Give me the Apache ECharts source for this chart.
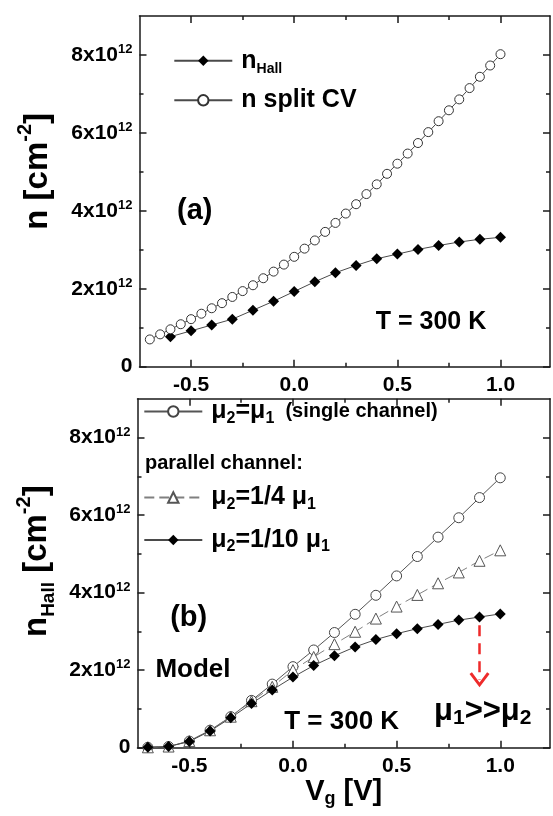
<!DOCTYPE html>
<html>
<head>
<meta charset="utf-8">
<script src="https://cdn.jsdelivr.net/npm/echarts@6/dist/echarts.min.js"></script>
<style>
  html, body { margin: 0; padding: 0; background: #fff; }
  #chart { width: 553px; height: 816px; }
</style>
</head>
<body>
<div id="chart"></div>
<script>
// densities in units of 1e12 cm^-2, gate voltage in V
var vgCV = [-0.70, -0.65, -0.60, -0.55, -0.50, -0.45, -0.40, -0.35, -0.30, -0.25, -0.20, -0.15,
            -0.10, -0.05, 0.00, 0.05, 0.10, 0.15, 0.20, 0.25, 0.30, 0.35, 0.40, 0.45, 0.50,
            0.55, 0.60, 0.65, 0.70, 0.75, 0.80, 0.85, 0.90, 0.95, 1.00];
var nCV = [0.70, 0.83, 0.96, 1.09, 1.22, 1.36, 1.50, 1.63, 1.79, 1.94, 2.09, 2.27,
           2.44, 2.62, 2.82, 3.03, 3.24, 3.46, 3.69, 3.93, 4.17, 4.43, 4.68, 4.95, 5.21,
           5.47, 5.74, 6.02, 6.30, 6.58, 6.86, 7.15, 7.44, 7.73, 8.02];
var vgHall = [-0.6, -0.5, -0.4, -0.3, -0.2, -0.1, 0.0, 0.1, 0.2, 0.3, 0.4, 0.5, 0.6, 0.7, 0.8, 0.9, 1.0];
var nHall = [0.77, 0.92, 1.07, 1.22, 1.45, 1.68, 1.93, 2.18, 2.41, 2.60, 2.77, 2.89, 3.01, 3.11, 3.20, 3.27, 3.32];

var vgModel = [-0.7, -0.6, -0.5, -0.4, -0.3, -0.2, -0.1, 0.0, 0.1, 0.2, 0.3, 0.4, 0.5, 0.6, 0.7, 0.8, 0.9, 1.0];
var nSingle = [0.01, 0.03, 0.17, 0.45, 0.80, 1.22, 1.64, 2.09, 2.52, 2.97, 3.44, 3.93, 4.43, 4.93, 5.43, 5.93, 6.45, 6.96];
var nQuarter = [0.01, 0.03, 0.17, 0.45, 0.80, 1.20, 1.57, 2.00, 2.34, 2.67, 2.99, 3.33, 3.64, 3.94, 4.24, 4.52, 4.82, 5.09];
var nTenth = [0.01, 0.03, 0.16, 0.43, 0.77, 1.14, 1.49, 1.82, 2.12, 2.37, 2.60, 2.79, 2.94, 3.07, 3.18, 3.29, 3.37, 3.45];

var arrowFrom = [0.9, 3.16];
var arrowTo = [0.9, 1.75];

var xLabelValues = [-0.5, 0.0, 0.5, 1.0];
var xMinorValues = [-0.25, 0.25, 0.75];
var yLabelValues = [0, 2, 4, 6, 8];
var yMinorValues = [1, 3, 5, 7];

var FONT = '"Liberation Sans", Arial, sans-serif';
var AXIS_COLOR = '#1a1a1a';

function pairs(xs, ys) {
    return xs.map(function (x, i) { return [x, ys[i]]; });
}

function xAxesFor(g, name) {
    function one(pos, major) {
        return {
            type: 'value', gridIndex: g, position: pos, min: -0.75, max: 1.24,
            splitLine: {show: false},
            axisLine: {show: major, onZero: false, lineStyle: {color: AXIS_COLOR, width: 1.5}},
            axisTick: {inside: true, length: major ? 7 : 4, customValues: major ? xLabelValues : xMinorValues,
                       lineStyle: {color: AXIS_COLOR, width: 1.5}},
            axisLabel: {show: major && pos === 'bottom', customValues: xLabelValues,
                        formatter: function (v) { return v.toFixed(1); },
                        fontSize: 21, fontWeight: 'bold', color: '#000', fontFamily: FONT, margin: 8},
            name: (major && pos === 'bottom') ? name : '',
            nameLocation: 'middle', nameGap: 27,
            nameTextStyle: {
                color: '#000', fontFamily: FONT,
                rich: {
                    a: {fontSize: 29, fontWeight: 'bold', lineHeight: 32, fontFamily: FONT, color: '#000'},
                    sub: {fontSize: 18, fontWeight: 'bold', verticalAlign: 'bottom', lineHeight: 6, fontFamily: FONT, color: '#000'}
                }
            }
        };
    }
    return [one('bottom', true), one('bottom', false), one('top', true), one('top', false)];
}

function yAxesFor(g, name, gap, shift) {
    function one(pos, major) {
        return {
            type: 'value', gridIndex: g, position: pos, min: 0, max: 9,
            splitLine: {show: false},
            axisLine: {show: major, onZero: false, lineStyle: {color: AXIS_COLOR, width: 1.5}},
            axisTick: {inside: true, length: major ? 7 : 4, customValues: major ? yLabelValues : yMinorValues,
                       lineStyle: {color: AXIS_COLOR, width: 1.5}},
            axisLabel: {
                show: major && pos === 'left', customValues: yLabelValues, margin: 7,
                formatter: function (v) { return v === 0 ? '{m|0}' : '{m|' + v + 'x10}{s|12}'; },
                rich: {
                    m: {fontSize: 21, fontWeight: 'bold', lineHeight: 24, color: '#000', fontFamily: FONT},
                    s: {fontSize: 13, fontWeight: 'bold', verticalAlign: 'top', lineHeight: 5, color: '#000', fontFamily: FONT}
                }
            },
            name: (major && pos === 'left') ? name : '',
            nameLocation: 'middle', nameGap: gap,
            nameTextStyle: {
                color: '#000', fontFamily: FONT, padding: [0, 0, 0, shift],
                rich: {
                    a: {fontSize: 33, fontWeight: 'bold', lineHeight: 44, fontFamily: FONT, color: '#000'},
                    sup: {fontSize: 20, fontWeight: 'bold', verticalAlign: 'top', lineHeight: 6, fontFamily: FONT, color: '#000'},
                    sub: {fontSize: 19, fontWeight: 'bold', verticalAlign: 'bottom', lineHeight: 18, fontFamily: FONT, color: '#000'}
                }
            }
        };
    }
    return [one('left', true), one('left', false), one('right', true), one('right', false)];
}

var legendText = {
    'n Hall': '{m0|n}{sub|Hall}',
    'n split CV': '{m0|n split CV}',
    'single': '{u0|μ}{sub2|2}{u|=μ}{sub2|1}{s|  (single channel)}',
    'quarter': '{u0|μ}{sub2|2}{u|=1/4 μ}{sub2|1}',
    'tenth': '{u0|μ}{sub2|2}{u|=1/10 μ}{sub2|1}'
};
var legendRich = {
    m0: {fontSize: 25, fontWeight: 'bold', lineHeight: 30, padding: [0, 0, 0, 4], fontFamily: FONT, color: '#000'},
    sub: {fontSize: 14, fontWeight: 'bold', verticalAlign: 'bottom', lineHeight: 6, fontFamily: FONT, color: '#000'},
    u0: {fontSize: 25, fontWeight: 'bold', lineHeight: 30, padding: [0, 0, 0, 4], fontFamily: FONT, color: '#000'},
    u: {fontSize: 25, fontWeight: 'bold', lineHeight: 30, fontFamily: FONT, color: '#000'},
    sub2: {fontSize: 16, fontWeight: 'bold', verticalAlign: 'bottom', lineHeight: 6, fontFamily: FONT, color: '#000'},
    s: {fontSize: 20, fontWeight: 'bold', lineHeight: 30, fontFamily: FONT, color: '#000'}
};
function legendFor(names, left, top, gap) {
    return {
        data: names, orient: 'vertical', left: left, top: top, itemGap: gap,
        itemWidth: 58, itemHeight: 13, selectedMode: false, padding: 0,
        formatter: function (n) { return legendText[n]; },
        textStyle: {rich: legendRich}
    };
}

var lineGray = '#4a4a4a';
var chevron = 'path://M10,0 L20,14 L17.6,15.6 L10,5 L2.4,15.6 L0,14 Z';

var myChart = echarts.init(document.getElementById('chart'));
var option = {
    animation: false,
    textStyle: {fontFamily: FONT},
    grid: [
        {left: 139.5, right: 3, top: 16, bottom: 449.3},
        {left: 137.5, right: 3, top: 398.7, bottom: 68.3}
    ],
    xAxis: xAxesFor(0, '').concat(xAxesFor(1, '{a|V}{sub|g}{a| [V]}')),
    yAxis: yAxesFor(0, '{a|n [cm}{sup|-2}{a|]}', 80, 40)
        .concat(yAxesFor(1, '{a|n}{sub|Hall}{a| [cm}{sup|-2}{a|]}', 78, 24)),
    legend: [
        legendFor(['n Hall', 'n split CV'], 173.3, 48.3, 12),
        legendFor(['single'], 143.3, 399, 10),
        legendFor(['quarter', 'tenth'], 143.3, 485, 15)
    ],
    series: [
        {
            name: 'n Hall', type: 'line', xAxisIndex: 0, yAxisIndex: 0,
            data: pairs(vgHall, nHall), symbol: 'diamond', symbolSize: 11,
            itemStyle: {color: '#000'}, lineStyle: {color: lineGray, width: 1},
            emphasis: {disabled: true}, z: 3
        },
        {
            name: 'n split CV', type: 'line', xAxisIndex: 0, yAxisIndex: 0,
            data: pairs(vgCV, nCV), symbol: 'circle', symbolSize: 9,
            itemStyle: {color: '#fff', borderColor: '#333', borderWidth: 1},
            lineStyle: {color: lineGray, width: 1}, emphasis: {disabled: true}
        },
        {
            name: 'single', type: 'line', xAxisIndex: 4, yAxisIndex: 4,
            data: pairs(vgModel, nSingle), symbol: 'circle', symbolSize: 10,
            itemStyle: {color: '#fff', borderColor: '#444', borderWidth: 1},
            lineStyle: {color: '#555', width: 1}, emphasis: {disabled: true}
        },
        {
            name: 'quarter', type: 'line', xAxisIndex: 4, yAxisIndex: 4,
            data: pairs(vgModel, nQuarter), symbol: 'triangle', symbolSize: 11,
            itemStyle: {color: '#fff', borderColor: '#555', borderWidth: 1},
            lineStyle: {color: '#808080', width: 1, type: [10, 5]}, emphasis: {disabled: true}
        },
        {
            name: 'tenth', type: 'line', xAxisIndex: 4, yAxisIndex: 4,
            data: pairs(vgModel, nTenth), symbol: 'diamond', symbolSize: 11,
            itemStyle: {color: '#000'}, lineStyle: {color: lineGray, width: 1},
            emphasis: {disabled: true}, z: 3,
            markLine: {
                silent: true, animation: false,
                symbol: ['none', chevron], symbolSize: [20, 15],
                lineStyle: {color: '#ee2a2a', width: 2.5, type: [11, 7]},
                label: {show: false},
                data: [[{coord: arrowFrom}, {coord: arrowTo}]]
            }
        }
    ],
    graphic: [
        {type: 'text', x: 194.7, y: 211, style: {text: '(a)', fontSize: 29, fontWeight: 'bold', fontFamily: FONT, fill: '#000', align: 'center', verticalAlign: 'middle'}},
        {type: 'text', x: 431, y: 322, style: {text: 'T = 300 K', fontSize: 25, fontWeight: 'bold', fontFamily: FONT, fill: '#000', align: 'center', verticalAlign: 'middle'}},
        {type: 'text', x: 145, y: 463.3, style: {text: 'parallel channel:', fontSize: 20, fontWeight: 'bold', fontFamily: FONT, fill: '#000', align: 'left', verticalAlign: 'middle'}},
        {type: 'text', x: 188.7, y: 618.3, style: {text: '(b)', fontSize: 29, fontWeight: 'bold', fontFamily: FONT, fill: '#000', align: 'center', verticalAlign: 'middle'}},
        {type: 'text', x: 193, y: 670, style: {text: 'Model', fontSize: 26, fontWeight: 'bold', fontFamily: FONT, fill: '#000', align: 'center', verticalAlign: 'middle'}},
        {type: 'text', x: 341.7, y: 722, style: {text: 'T = 300 K', fontSize: 26, fontWeight: 'bold', fontFamily: FONT, fill: '#000', align: 'center', verticalAlign: 'middle'}},
        {type: 'text', x: 434, y: 711, style: {
            text: '{m|μ}{s|1}{m|>>μ}{s|2}', align: 'left', verticalAlign: 'middle',
            rich: {
                m: {fontSize: 31, fontWeight: 'bold', lineHeight: 36, fontFamily: FONT, fill: '#000'},
                s: {fontSize: 21, fontWeight: 'bold', verticalAlign: 'bottom', lineHeight: 8, fontFamily: FONT, fill: '#000'}
            }
        }}
    ]
};
myChart.setOption(option);
</script>
</body>
</html>
